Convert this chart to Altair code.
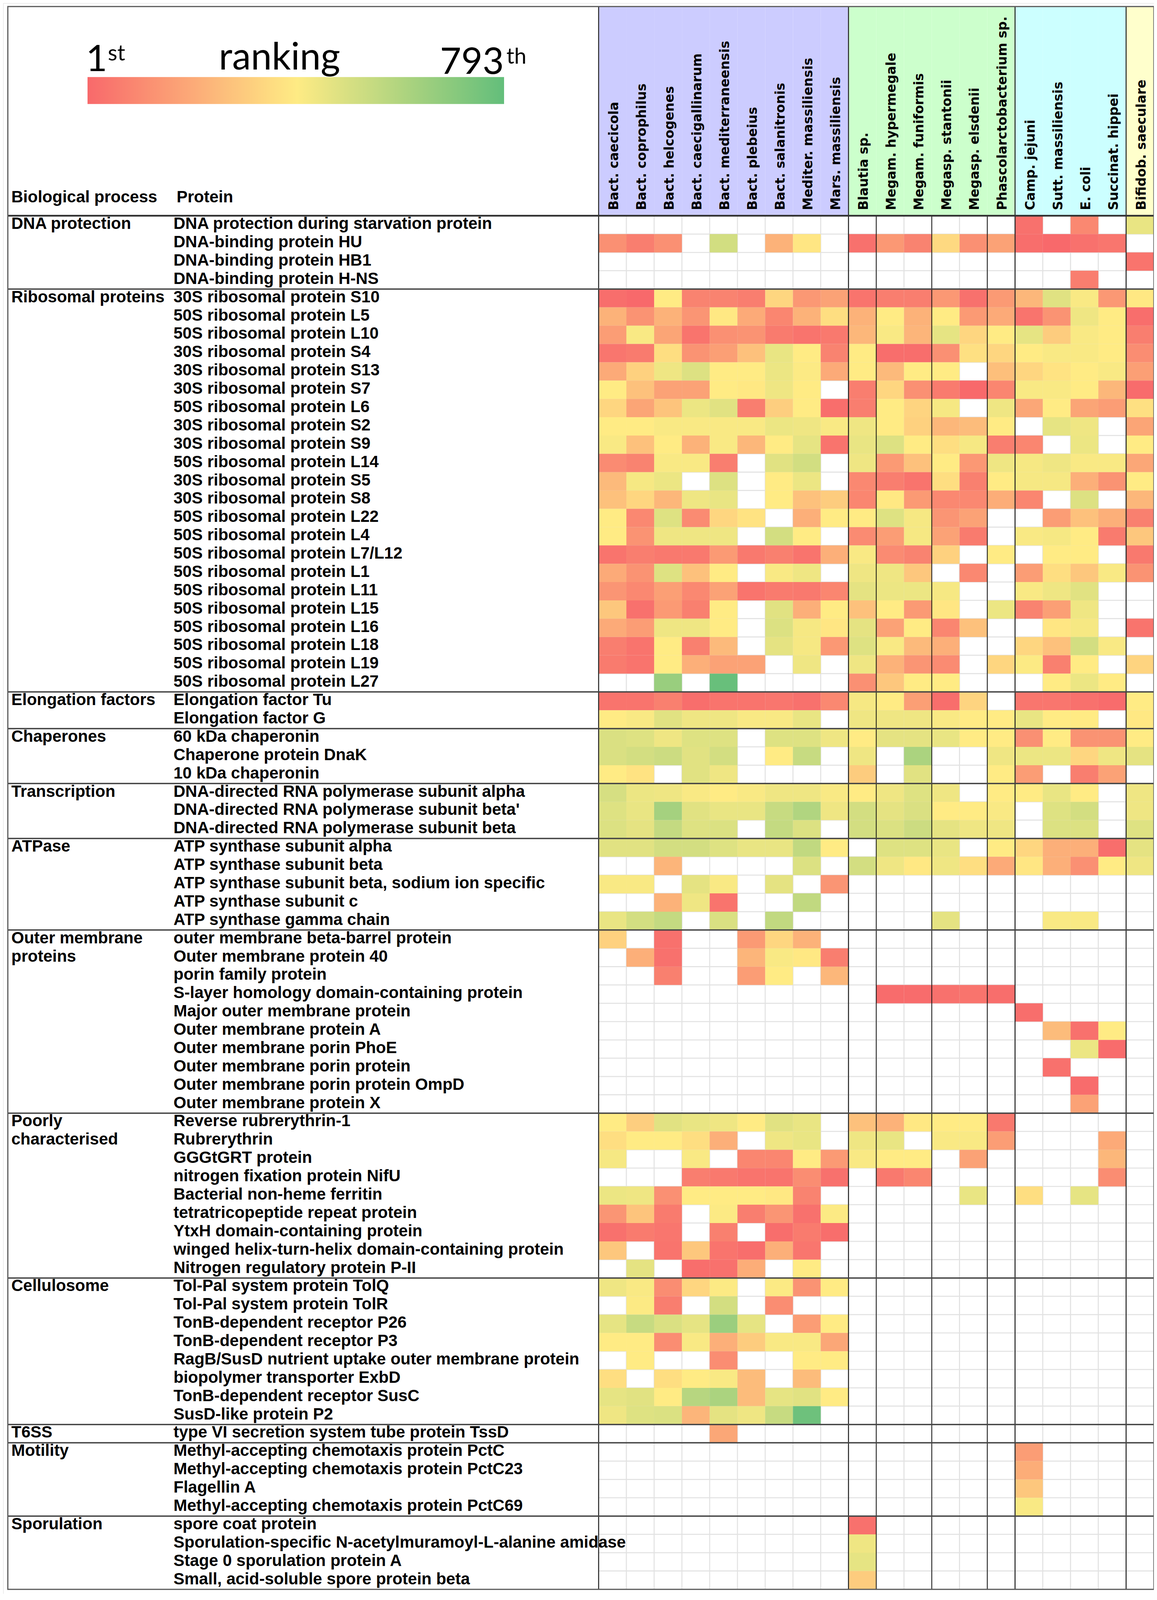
import altair as alt
import pandas as pd

_ = None

# ---------------- data ----------------
species = ["Bact. caecicola", "Bact. coprophilus", "Bact. helcogenes", "Bact. caecigallinarum",
           "Bact. mediterraneensis", "Bact. plebeius", "Bact. salanitronis", "Mediter. massiliensis",
           "Mars. massiliensis", "Blautia sp.", "Megam. hypermegale", "Megam. funiformis",
           "Megasp. stantonii", "Megasp. elsdenii", "Phascolarctobacterium sp.", "Camp. jejuni",
           "Sutt. massiliensis", "E. coli", "Succinat. hippei", "Bifidob. saeculare"]
phylum = ["Bacteroidetes"] * 9 + ["Firmicutes"] * 6 + ["Proteobacteria"] * 4 + ["Actinobacteria"]
genus_break = ["Megam. hypermegale", "Megasp. stantonii", "Phascolarctobacterium sp."]

dna_proteins = ["DNA protection during starvation protein", "DNA-binding protein HU",
                "DNA-binding protein HB1", "DNA-binding protein H-NS"]
ranks_dna = [
    [_, _, _, _, _, _, _, _, _, _, _, _, _, _, _, 25, _, 96, _, 452],
    [120, 64, 120, _, 512, _, 223, 381, _, 25, 144, 80, 342, 120, 175, 17, 1, 25, 41, _],
    [_, _, _, _, _, _, _, _, _, _, _, _, _, _, _, _, _, _, _, 33],
    [_, _, _, _, _, _, _, _, _, _, _, _, _, _, _, _, _, 64, _, _],
]

ribo_proteins = ["30S ribosomal protein S10", "50S ribosomal protein L5", "50S ribosomal protein L10",
                 "30S ribosomal protein S4", "30S ribosomal protein S13", "30S ribosomal protein S7",
                 "50S ribosomal protein L6", "30S ribosomal protein S2", "30S ribosomal protein S9",
                 "50S ribosomal protein L14", "30S ribosomal protein S5", "30S ribosomal protein S8",
                 "50S ribosomal protein L22", "50S ribosomal protein L4", "50S ribosomal protein L7/L12",
                 "50S ribosomal protein L1", "50S ribosomal protein L11", "50S ribosomal protein L15",
                 "50S ribosomal protein L16", "50S ribosomal protein L18", "50S ribosomal protein L19",
                 "50S ribosomal protein L27"]
ranks_ribo = [
    [17, 1, 397, 80, 80, 64, 334, 144, 175, 33, 64, 64, 144, 25, 151, 239, 476, 413, 144, 389],
    [223, 128, 223, 136, 389, 199, 88, 223, 357, 223, 397, 223, 397, 151, 199, 33, 128, 437, 397, 17],
    [159, 413, 183, 33, 120, 128, 56, 33, 49, 239, 413, 231, 460, 334, 397, 460, 302, 413, 397, 64],
    [41, 56, 357, 128, 167, 270, 452, 397, 80, 397, 17, 17, 120, 365, 334, 397, 413, 413, 397, 112],
    [199, 318, 437, 484, 397, 397, 445, 405, 199, 397, 247, 397, 397, _, 262, 334, 373, 397, 413, 167],
    [397, 270, 175, 175, 397, 389, 437, 397, _, 64, 334, 120, 56, 1, 88, 413, 413, 397, 239, 9],
    [334, 183, 278, 445, 472, 64, 310, 397, 17, 64, 397, 326, 421, _, 437, 191, 397, 183, 159, 365],
    [397, 397, 413, 413, 413, 413, 445, 437, 413, 437, 397, 318, 239, 254, 397, _, 460, 437, _, 183],
    [413, 270, 397, 223, 413, 239, 397, 460, 33, 452, 484, 397, 357, 421, 64, 88, _, 445, _, 397],
    [104, 80, 413, 413, 64, _, 472, 512, _, 437, 151, 270, 397, 144, 437, 421, 437, 413, 413, 191],
    [247, 421, 445, _, 484, _, 397, 445, _, 96, 64, 33, 357, 72, 397, 421, 421, 215, 128, 397],
    [270, 334, 239, 437, 452, _, 397, 270, 302, 88, 389, 151, 96, 96, 207, 88, _, 484, _, 239],
    [397, 96, 480, 104, 334, 373, _, 215, 397, 397, 480, 421, 136, 175, _, _, 159, 270, 215, 72],
    [397, 128, 437, 437, 437, _, 508, 397, _, 104, 159, 421, 175, 56, _, 413, 421, 397, 56, 286],
    [33, 64, 49, 49, 151, 49, 72, 33, 215, 413, 104, 80, 318, _, 397, _, 397, 397, _, 49],
    [199, 128, 480, 270, 397, _, 413, 437, _, 437, 437, 286, _, 96, _, 159, 357, 286, 413, 128],
    [136, 96, 167, 96, 175, 33, 56, 49, 88, 464, 445, 445, 421, _, _, 413, 437, 472, _, _],
    [286, 25, 151, 72, 397, _, 472, 215, 397, 270, 397, 151, 381, _, 445, 80, 167, 437, _, _],
    [199, 159, 437, 437, 397, _, 486, 421, 381, 464, 175, 397, 88, 270, _, _, 381, 421, _, 33],
    [64, 33, 397, 72, 247, _, 464, 421, 144, 480, 413, 247, 215, _, _, 334, 270, 508, 413, _],
    [56, 33, 397, 215, 175, 175, _, 437, _, 437, 223, 136, 104, _, 334, 405, 72, 397, _, 326],
    [_, _, 655, _, 780, _, _, _, _, 120, 286, 397, 397, _, _, _, 397, 445, 397, _],
]

elong_proteins = ["Elongation factor Tu", "Elongation factor G"]
ranks_elong = [
    [33, 33, 72, 17, 33, 33, 41, 25, 96, 421, 397, 167, 17, 326, _, 41, 41, 25, 9, 397],
    [397, 413, 472, 437, 437, 413, 413, 452, _, 437, 437, 437, 413, 397, 397, 452, 397, 397, _, 389],
]

chap_proteins = ["60 kDa chaperonin", "Chaperone protein DnaK", "10 kDa chaperonin"]
ranks_chap = [
    [492, 480, 437, 480, 480, _, 480, 480, 437, 397, 464, 464, 452, 397, 397, 120, 397, 128, 128, 397],
    [492, 508, 527, 472, 508, _, 397, 540, _, 437, _, 610, _, _, 437, 445, 445, 334, 437, 464],
    [397, 373, _, 472, 437, _, _, _, _, 302, _, 472, _, _, 397, 159, _, 64, 175, _],
]

trans_proteins = ["DNA-directed RNA polymerase subunit alpha", "DNA-directed RNA polymerase subunit beta'",
                  "DNA-directed RNA polymerase subunit beta"]
ranks_trans = [
    [500, 445, 437, 413, 397, 413, 437, 437, 413, 397, 437, 480, 437, _, 397, 397, 452, 397, _, 437],
    [480, 452, 625, 472, 452, 452, 540, 595, 437, 508, 464, 492, 397, 397, 413, _, 480, 508, _, 437],
    [486, 464, 547, 480, 488, _, 547, 486, _, 508, 488, 527, 464, 437, 437, _, 486, 486, _, 480],
]

atp_proteins = ["ATP synthase subunit alpha", "ATP synthase subunit beta",
                "ATP synthase subunit beta, sodium ion specific", "ATP synthase subunit c",
                "ATP synthase gamma chain"]
ranks_atp = [
    [472, 472, 508, 508, 480, 452, 452, 555, 397, _, 480, 480, 452, _, 397, 334, 215, 215, 17, 464],
    [_, _, 231, _, _, _, _, 486, _, 508, 437, 389, 437, 357, 199, 381, 215, 120, 397, 437],
    [413, 413, _, 464, 413, _, 464, _, 136, _, _, _, _, _, _, _, _, _, _, _],
    [_, _, 223, 437, 33, _, _, 555, _, _, _, _, _, _, _, _, _, _, _, _],
    [452, 508, 547, _, 492, _, 555, _, _, _, _, _, 464, _, _, _, 413, 413, _, _],
]

omp_proteins = ["outer membrane beta-barrel protein", "Outer membrane protein 40", "porin family protein",
                "S-layer homology domain-containing protein", "Major outer membrane protein",
                "Outer membrane protein A", "Outer membrane porin PhoE", "Outer membrane porin protein",
                "Outer membrane porin protein OmpD", "Outer membrane protein X"]
ranks_omp = [
    [318, _, 25, _, _, 151, 334, 223, _, _, _, _, _, _, _, _, _, _, _, _],
    [_, 215, 25, _, _, 231, 413, 389, 64, _, _, _, _, _, _, _, _, _, _, _],
    [_, _, 72, _, _, 159, 397, _, 239, _, _, _, _, _, _, _, _, _, _, _],
    [_, _, _, _, _, _, _, _, _, _, 9, 9, 25, 33, 17, _, _, _, _, _],
    [_, _, _, _, _, _, _, _, _, _, _, _, _, _, _, 17, _, _, _, _],
    [_, _, _, _, _, _, _, _, _, _, _, _, _, _, _, _, 254, 25, 397, _],
    [_, _, _, _, _, _, _, _, _, _, _, _, _, _, _, _, _, 445, 9, _],
    [_, _, _, _, _, _, _, _, _, _, _, _, _, _, _, _, 25, _, _, _],
    [_, _, _, _, _, _, _, _, _, _, _, _, _, _, _, _, _, 9, _, _],
    [_, _, _, _, _, _, _, _, _, _, _, _, _, _, _, _, _, 175, _, _],
]

poor_proteins = ["Reverse rubrerythrin-1", "Rubrerythrin", "GGGtGRT protein", "nitrogen fixation protein NifU",
                 "Bacterial non-heme ferritin", "tetratricopeptide repeat protein",
                 "YtxH domain-containing protein", "winged helix-turn-helix domain-containing protein",
                 "Nitrogen regulatory protein P-II"]
ranks_poor = [
    [397, 310, 472, 452, 437, 397, 472, 452, _, 270, 223, 389, 397, 397, 49, _, _, _, _, _],
    [357, 397, 397, 357, 215, _, 437, 452, _, 437, 452, _, 413, 413, 159, _, _, _, 199, _],
    [421, _, _, 413, _, 88, 88, 397, 151, 413, 397, 397, _, 175, _, _, _, _, 239, _],
    [_, _, _, 64, 49, 33, 33, 112, 25, _, 49, 88, _, _, _, _, _, _, 112, _],
    [445, 437, 120, 397, 397, 397, 389, 80, _, _, _, _, _, 452, _, 357, _, 460, _, _],
    [136, 278, 56, _, 405, 64, 136, 25, 405, _, _, _, _, _, _, _, _, _, _, _],
    [25, 56, 41, _, 72, _, 17, 56, 17, _, _, _, _, _, _, _, _, _, _, _],
    [286, _, 33, 286, 33, 17, 215, 41, _, _, _, _, _, _, _, _, _, _, _, _],
    [_, 464, _, 17, 25, 207, _, 397, _, _, _, _, _, _, _, _, _, _, _, _],
]

cell_proteins = ["Tol-Pal system protein TolQ", "Tol-Pal system protein TolR", "TonB-dependent receptor P26",
                 "TonB-dependent receptor P3", "RagB/SusD nutrient uptake outer membrane protein",
                 "biopolymer transporter ExbD", "TonB-dependent receptor SusC", "SusD-like protein P2"]
ranks_cell = [
    [437, 413, 112, 334, 405, _, 405, 128, 397, _, _, _, _, _, _, _, _, _, _, _],
    [_, 405, 64, _, 508, _, 112, _, _, _, _, _, _, _, _, _, _, _, _, _],
    [460, 540, 492, 460, 650, 460, _, 159, 397, _, _, _, _, _, _, _, _, _, _, _],
    [397, 397, 112, 413, 215, 302, 413, 413, 191, _, _, _, _, _, _, _, _, _, _, _],
    [_, 397, _, _, 112, _, _, 397, 397, _, _, _, _, _, _, _, _, _, _, _],
    [357, _, 357, 397, 413, 254, _, 254, _, _, _, _, _, _, _, _, _, _, _, _],
    [460, 472, 397, 580, 610, 254, 460, 472, 397, _, _, _, _, _, _, _, _, _, _, _],
    [437, 480, 488, 231, 464, 437, 540, 765, _, _, _, _, _, _, _, _, _, _, _, _],
]

t6ss_proteins = ["type VI secretion system tube protein TssD"]
ranks_t6ss = [
    [_, _, _, _, 191, _, _, _, _, _, _, _, _, _, _, _, _, _, _, _],
]

mot_proteins = ["Methyl-accepting chemotaxis protein PctC", "Methyl-accepting chemotaxis protein PctC23",
                "Flagellin A", "Methyl-accepting chemotaxis protein PctC69"]
ranks_mot = [
    [_, _, _, _, _, _, _, _, _, _, _, _, _, _, _, 159, _, _, _, _],
    [_, _, _, _, _, _, _, _, _, _, _, _, _, _, _, 207, _, _, _, _],
    [_, _, _, _, _, _, _, _, _, _, _, _, _, _, _, 286, _, _, _, _],
    [_, _, _, _, _, _, _, _, _, _, _, _, _, _, _, 413, _, _, _, _],
]

spor_proteins = ["spore coat protein", "Sporulation-specific N-acetylmuramoyl-L-alanine amidase",
                 "Stage 0 sporulation protein A", "Small, acid-soluble spore protein beta"]
ranks_spor = [
    [_, _, _, _, _, _, _, _, _, 25, _, _, _, _, _, _, _, _, _, _],
    [_, _, _, _, _, _, _, _, _, 437, _, _, _, _, _, _, _, _, _, _],
    [_, _, _, _, _, _, _, _, _, 460, _, _, _, _, _, _, _, _, _, _],
    [_, _, _, _, _, _, _, _, _, 302, _, _, _, _, _, _, _, _, _, _],
]

groups = [
    ("DNA protection", dna_proteins, ranks_dna),
    ("Ribosomal proteins", ribo_proteins, ranks_ribo),
    ("Elongation factors", elong_proteins, ranks_elong),
    ("Chaperones", chap_proteins, ranks_chap),
    ("Transcription", trans_proteins, ranks_trans),
    ("ATPase", atp_proteins, ranks_atp),
    ("Outer membrane proteins", omp_proteins, ranks_omp),
    ("Poorly characterised", poor_proteins, ranks_poor),
    ("Cellulosome", cell_proteins, ranks_cell),
    ("T6SS", t6ss_proteins, ranks_t6ss),
    ("Motility", mot_proteins, ranks_mot),
    ("Sporulation", spor_proteins, ranks_spor),
]
label_lines = {"Outer membrane proteins": ["Outer membrane", "proteins"],
               "Poorly characterised": ["Poorly", "characterised"]}

# ---------------- styling / layout ----------------
PHYLA = ["Bacteroidetes", "Firmicutes", "Proteobacteria", "Actinobacteria"]
PHYLA_FILL = ["#CCCCFF", "#CCFFCC", "#CCFFFF", "#FFFFCC"]
K = 0.7925                      # vertical fit factor so the whole table is photographed
W = 2945
TABLE_L, TABLE_R = 12, 2945
TABLE_T = 21 * K - 8
BODY_T = 697 * K - 8
ROW_H = 59.16 * K
HEAT_L = 1524
LABEL_FONT = "Liberation Sans"

# ---------------- tables ----------------
proteins, cells, first_rows, proc_lines = [], [], [], []
for gname, prots, rk in groups:
    assert len(prots) == len(rk)
    first_rows.append(prots[0])
    lines = label_lines.get(gname, [gname])
    for i, ln in enumerate(lines):
        proc_lines.append({"protein": prots[i], "line": ln})
    for p, r in zip(prots, rk):
        assert len(r) == len(species)
        proteins.append(p)
        for s, v in zip(species, r):
            cells.append({"protein": p, "species": s, "rank": v})

BODY_B = BODY_T + ROW_H * len(proteins)
H = int(BODY_B + 12)

df_cells = pd.DataFrame(cells)
df_all = df_cells[["protein", "species"]]
df_val = df_cells.dropna(subset=["rank"])
df_species = pd.DataFrame({"species": species, "phylum": phylum})
df_phylum_start = df_species.drop_duplicates("phylum")
df_genus = pd.DataFrame({"species": genus_break})
df_first = pd.DataFrame({"protein": first_rows[1:]})
df_head = pd.DataFrame({"protein": first_rows[:1]})
df_prot = pd.DataFrame({"protein": proteins})
df_proc = pd.DataFrame(proc_lines)
one = pd.DataFrame({"k": [0]})

xs = alt.Scale(domain=species, range=[HEAT_L, TABLE_R], paddingInner=0, paddingOuter=0)
ys = alt.Scale(domain=proteins, range=[BODY_T, BODY_B], paddingInner=0, paddingOuter=0)


def X(bp=None):
    if bp is None:
        return alt.X("species:N", scale=xs, axis=None)
    return alt.X("species:N", scale=xs, axis=None, bandPosition=bp)


def Y(bp=None):
    if bp is None:
        return alt.Y("protein:N", scale=ys, axis=None)
    return alt.Y("protein:N", scale=ys, axis=None, bandPosition=bp)


header_bg = alt.Chart(df_species).mark_rect().encode(
    x=X(), y=alt.value(TABLE_T), y2=alt.value(BODY_T),
    fill=alt.Fill("phylum:N", scale=alt.Scale(domain=PHYLA, range=PHYLA_FILL), legend=None))

grid = alt.Chart(df_all).mark_rect(fill="white", stroke="#E2E2E2", strokeWidth=2.5).encode(x=X(), y=Y())

heat = alt.Chart(df_val).mark_rect().encode(
    x=X(), y=Y(),
    color=alt.Color("rank:Q",
                    scale=alt.Scale(domain=[1, 397, 793], range=["#F8696B", "#FFEB84", "#63BE7B"],
                                    interpolate="rgb"),
                    legend=alt.Legend(orient="none", legendX=216, legendY=249 * K - 8,
                                      direction="horizontal", gradientLength=1066,
                                      gradientThickness=87 * K, labelOpacity=0, labelFontSize=1,
                                      title=None, padding=0, gradientStrokeWidth=0)))

genus_lines = alt.Chart(df_genus).mark_rule(color="#111111", strokeWidth=2).encode(
    x=X(0), y=alt.value(BODY_T), y2=alt.value(BODY_B))

phylum_lines = alt.Chart(df_phylum_start).mark_rule(color="#222222", strokeWidth=2.5).encode(
    x=X(0), y=alt.value(TABLE_T), y2=alt.value(BODY_B))

group_lines = alt.Chart(df_first).mark_rule(color="#444444", strokeWidth=3.5).encode(
    y=Y(0), x=alt.value(TABLE_L), x2=alt.value(TABLE_R))

head_line = alt.Chart(df_head).mark_rule(color="#333333", strokeWidth=4.5).encode(
    y=Y(0), x=alt.value(TABLE_L), x2=alt.value(TABLE_R))

border = alt.Chart(one).mark_rect(fillOpacity=0, stroke="#5a5a5a", strokeWidth=3).encode(
    x=alt.value(TABLE_L), x2=alt.value(TABLE_R), y=alt.value(TABLE_T), y2=alt.value(BODY_B))

prot_text = alt.Chart(df_prot).mark_text(
    align="left", baseline="alphabetic", font=LABEL_FONT, fontWeight="bold", fontSize=42, color="black"
).encode(y=Y(0.72), x=alt.value(436), text="protein:N")

proc_text = alt.Chart(df_proc).mark_text(
    align="left", baseline="alphabetic", font=LABEL_FONT, fontWeight="bold", fontSize=42, color="black"
).encode(y=Y(0.72), x=alt.value(21), text="line:N")

sp_text = alt.Chart(df_species).mark_text(
    angle=270, align="left", baseline="middle", font="DejaVu Sans", fontWeight="bold", fontSize=33,
    color="black"
).encode(x=X(0.56), y=alt.value(679 * K - 8), text="species:N")


def label(txt, x, y, size, font=LABEL_FONT, weight="bold"):
    return alt.Chart(pd.DataFrame({"t": [txt]})).mark_text(
        align="left", baseline="alphabetic", font=font, fontWeight=weight, fontSize=size, color="black"
    ).encode(x=alt.value(x), y=alt.value(y), text="t:N")


titles = [
    label("Biological process", 21, 654 * K - 8, 42),
    label("Protein", 444, 654 * K - 8, 42),
    label("1", 212, 230 * K - 8, 94, "Lato", "normal"),
    label("st", 268, 196 * K - 8, 56, "Lato", "normal"),
    label("ranking", 552, 225 * K - 8, 96, "Lato", "normal"),
    label("793", 1118, 239 * K - 8, 94, "Lato", "normal"),
    label("th", 1288, 206 * K - 8, 56, "Lato", "normal"),
]

chart = alt.layer(
    header_bg, grid, heat, genus_lines, phylum_lines, group_lines, head_line, border,
    prot_text, proc_text, sp_text, *titles
).properties(
    width=W, height=H, padding=0,
    autosize=alt.AutoSizeParams(type="none")
).configure_view(strokeWidth=0).configure(background="white")

chart.save("out.html", embed_options={"renderer": "svg", "actions": False})
